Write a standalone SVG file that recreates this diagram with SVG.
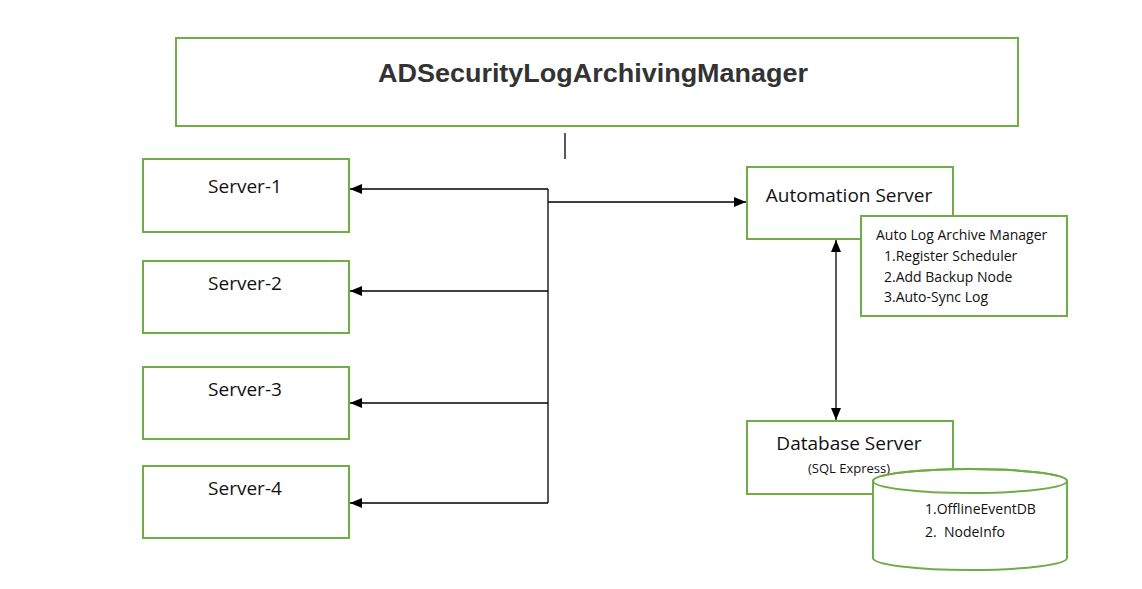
<svg xmlns="http://www.w3.org/2000/svg" width="1142" height="589" viewBox="0 0 1142 589">
<style>
.box{fill:#fff;stroke:#70AD47;stroke-width:2}
.t{font-family:"Open Sans","Noto Sans",sans-serif;fill:#111}
.srv{font-size:19px}
.ln{stroke:#000;stroke-width:1.3;fill:none}
</style>
<defs>
<marker id="ah" viewBox="0 0 12 10" refX="12" refY="5" markerWidth="12" markerHeight="10" markerUnits="userSpaceOnUse" orient="auto-start-reverse">
<path d="M0,0 L12,5 L0,10 Z" fill="#000"/>
</marker>
</defs>
<rect width="1142" height="589" fill="#fff"/>
<g id="manager">
<rect class="box" x="176" y="38" width="842" height="88"/>
<text x="378" y="82" textLength="430" lengthAdjust="spacingAndGlyphs" font-family="Liberation Sans,Arial,sans-serif" font-weight="bold" font-size="26" fill="#333">ADSecurityLogArchivingManager</text>
</g>
<g id="connectors">
<line class="ln" x1="565" y1="133" x2="565" y2="159"/>
<line class="ln" x1="548" y1="189" x2="548" y2="503"/>
<line class="ln" x1="548" y1="189" x2="350" y2="189" marker-end="url(#ah)"/>
<line class="ln" x1="548" y1="291" x2="350" y2="291" marker-end="url(#ah)"/>
<line class="ln" x1="548" y1="403" x2="350" y2="403" marker-end="url(#ah)"/>
<line class="ln" x1="548" y1="503" x2="350" y2="503" marker-end="url(#ah)"/>
<line class="ln" x1="548" y1="202" x2="746" y2="202" marker-end="url(#ah)"/>
<line class="ln" x1="836" y1="240" x2="836" y2="420" marker-start="url(#ah)" marker-end="url(#ah)"/>
</g>
<g id="server1">
<rect class="box" x="143" y="159" width="206" height="73"/>
<text class="t srv" x="245" y="193" text-anchor="middle">Server-1</text>
</g>
<g id="server2">
<rect class="box" x="143" y="261" width="206" height="72"/>
<text class="t srv" x="245" y="290" text-anchor="middle">Server-2</text>
</g>
<g id="server3">
<rect class="box" x="143" y="367" width="206" height="72"/>
<text class="t srv" x="245" y="396" text-anchor="middle">Server-3</text>
</g>
<g id="server4">
<rect class="box" x="143" y="466" width="206" height="72"/>
<text class="t srv" x="245" y="495" text-anchor="middle">Server-4</text>
</g>
<g id="automation">
<rect class="box" x="747" y="167" width="206" height="72"/>
<text class="t" x="849" y="202" text-anchor="middle" font-size="19">Automation Server</text>
</g>
<g id="archive-manager">
<rect class="box" x="861" y="216" width="206" height="100"/>
<text class="t" font-size="14">
<tspan x="876" y="240">Auto Log Archive Manager</tspan>
<tspan x="884" y="261">1.Register Scheduler</tspan>
<tspan x="884" y="282">2.Add Backup Node</tspan>
<tspan x="884" y="302">3.Auto-Sync Log</tspan>
</text>
</g>
<g id="database">
<rect class="box" x="747" y="421" width="206" height="73"/>
<text class="t" x="849" y="450" text-anchor="middle" font-size="19">Database Server</text>
<text class="t" x="849" y="473" text-anchor="middle" font-size="13">(SQL Express)</text>
</g>
<g id="db-store">
<path class="box" d="M873,481 L873,558 A97,12 0 0 0 1067,558 L1067,481 A97,12 0 0 0 873,481 Z"/>
<ellipse cx="970" cy="481" rx="97" ry="12" fill="none" stroke="#70AD47" stroke-width="2"/>
<text class="t" font-size="14" style="white-space:pre">
<tspan x="925" y="514">1.OfflineEventDB</tspan>
<tspan x="925" y="537">2.  NodeInfo</tspan>
</text>
</g>
</svg>
